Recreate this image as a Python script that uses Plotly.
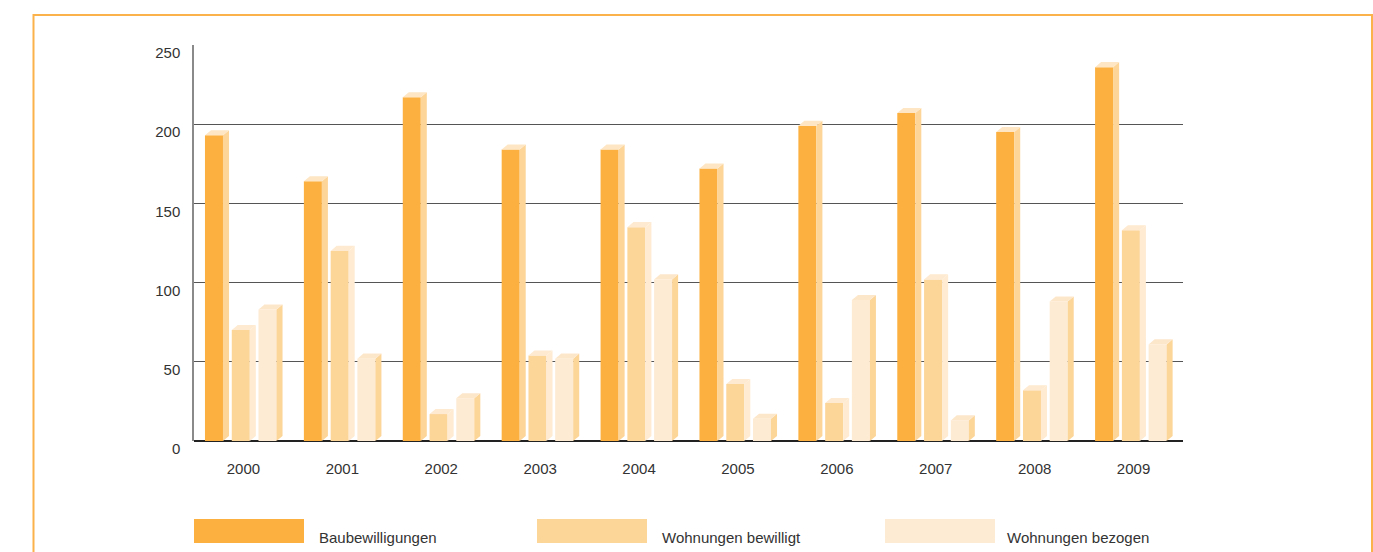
import plotly.graph_objects as go

# Data
years = ["2000", "2001", "2002", "2003", "2004", "2005", "2006", "2007", "2008", "2009"]
series_names = ["Baubewilligungen", "Wohnungen bewilligt", "Wohnungen bezogen"]
baubewilligungen = [193, 164, 217, 184, 184, 172, 199, 207, 195, 236]
wohnungen_bewilligt = [70, 120, 17, 54, 135, 36, 24, 102, 32, 133]
wohnungen_bezogen = [83, 52, 27, 52, 102, 14, 89, 13, 88, 61]
y_ticks = [0, 50, 100, 150, 200, 250]

series_values = [baubewilligungen, wohnungen_bewilligt, wohnungen_bezogen]

# Face colours per series: front, side, top
front_colors = ["#FBB040", "#FCD599", "#FDEBD4"]
side_colors = ["#FDD598", "#FEEBD2", "#FCD599"]
top_colors = ["#FEE6C4", "#FEEAD0", "#FDE7CB"]

# Bar geometry (x in category units, y in value units)
bar_width = 0.182
bar_offsets = [-0.389, -0.118, 0.152]
depth_x = 0.061
depth_y = 3.2

FONT = "Liberation Sans, Arial, Helvetica, sans-serif"
TEXT_COLOR = "#333333"

fig = go.Figure()
xs = list(range(len(years)))

for vals, name, off, fc, sc, tc in zip(series_values, series_names, bar_offsets,
                                       front_colors, side_colors, top_colors):
    # front face
    fig.add_trace(go.Bar(
        x=xs, y=vals, base=0, width=bar_width, offset=off, name=name,
        marker=dict(color=fc, line=dict(width=0)), showlegend=False,
        hoverinfo="skip",
    ))
    # side face and top face polygons built from the values
    sx, sy, tx, ty = [], [], [], []
    for i, v in enumerate(vals):
        x0 = i + off
        x1 = x0 + bar_width
        sx += [x1, x1, x1 + depth_x, x1 + depth_x, x1, None]
        sy += [0, v, v + depth_y, depth_y, 0, None]
        tx += [x0, x0 + depth_x, x1 + depth_x, x1, x0, None]
        ty += [v, v + depth_y, v + depth_y, v, v, None]
    fig.add_trace(go.Scatter(x=sx, y=sy, mode="lines", fill="toself",
                             fillcolor=sc, line=dict(width=0, color=sc),
                             showlegend=False, hoverinfo="skip"))
    fig.add_trace(go.Scatter(x=tx, y=ty, mode="lines", fill="toself",
                             fillcolor=tc, line=dict(width=0, color=tc),
                             showlegend=False, hoverinfo="skip"))

# Plot area in pixels
L, R, T, B = 194, 1183, 45, 441
W, H = 1373, 552


def px_x(p):
    return (p - L) / (R - L)


def px_y(p):
    return (B - p) / (B - T)


shapes = []
annotations = []

# Legend: wide swatches with labels
legend_swatch_left = [194, 537, 885]
legend_text_left = [317, 660, 1005]
for name, fc, sl, tl in zip(series_names, front_colors, legend_swatch_left, legend_text_left):
    shapes.append(dict(type="rect", xref="paper", yref="paper",
                       x0=px_x(sl), x1=px_x(sl + 110), y0=px_y(543), y1=px_y(519),
                       fillcolor=fc, line=dict(width=0), layer="above"))
    annotations.append(dict(xref="paper", yref="paper", x=px_x(tl), y=px_y(537),
                            xanchor="left", yanchor="middle", text=name, showarrow=False,
                            font=dict(family=FONT, size=15, color=TEXT_COLOR)))

# Orange frame around the chart
shapes.append(dict(type="path", xref="paper", yref="paper",
                   path=f"M {px_x(33.5)} {px_y(560)} L {px_x(33.5)} {px_y(15)} "
                        f"L {px_x(1372)} {px_y(15)} L {px_x(1372)} {px_y(560)}",
                   line=dict(color="#FBB24A", width=2), layer="above"))

fig.update_layout(
    width=W, height=H,
    margin=dict(l=L, r=W - R, t=T, b=H - B),
    paper_bgcolor="white", plot_bgcolor="white",
    barmode="overlay",
    showlegend=False,
    shapes=shapes,
    annotations=annotations,
    font=dict(family=FONT, size=15, color=TEXT_COLOR),
    xaxis=dict(
        range=[-0.5, len(years) - 0.5],
        tickmode="array", tickvals=xs, ticktext=years,
        showgrid=False, zeroline=False, showline=False, ticks="",
        ticklabelstandoff=17,
        tickfont=dict(family=FONT, size=15, color=TEXT_COLOR),
        fixedrange=True,
    ),
    yaxis=dict(
        range=[0, 250],
        tickmode="array", tickvals=y_ticks,
        showgrid=True, gridcolor="#555555", gridwidth=1.3,
        zeroline=True, zerolinecolor="#222222", zerolinewidth=2,
        showline=True, linecolor="#8a8a8a", linewidth=1.5,
        ticks="", ticklabelstandoff=9, ticklabelshift=8,
        tickfont=dict(family=FONT, size=15, color=TEXT_COLOR),
        fixedrange=True,
    ),
)

fig.write_html("out.html")
